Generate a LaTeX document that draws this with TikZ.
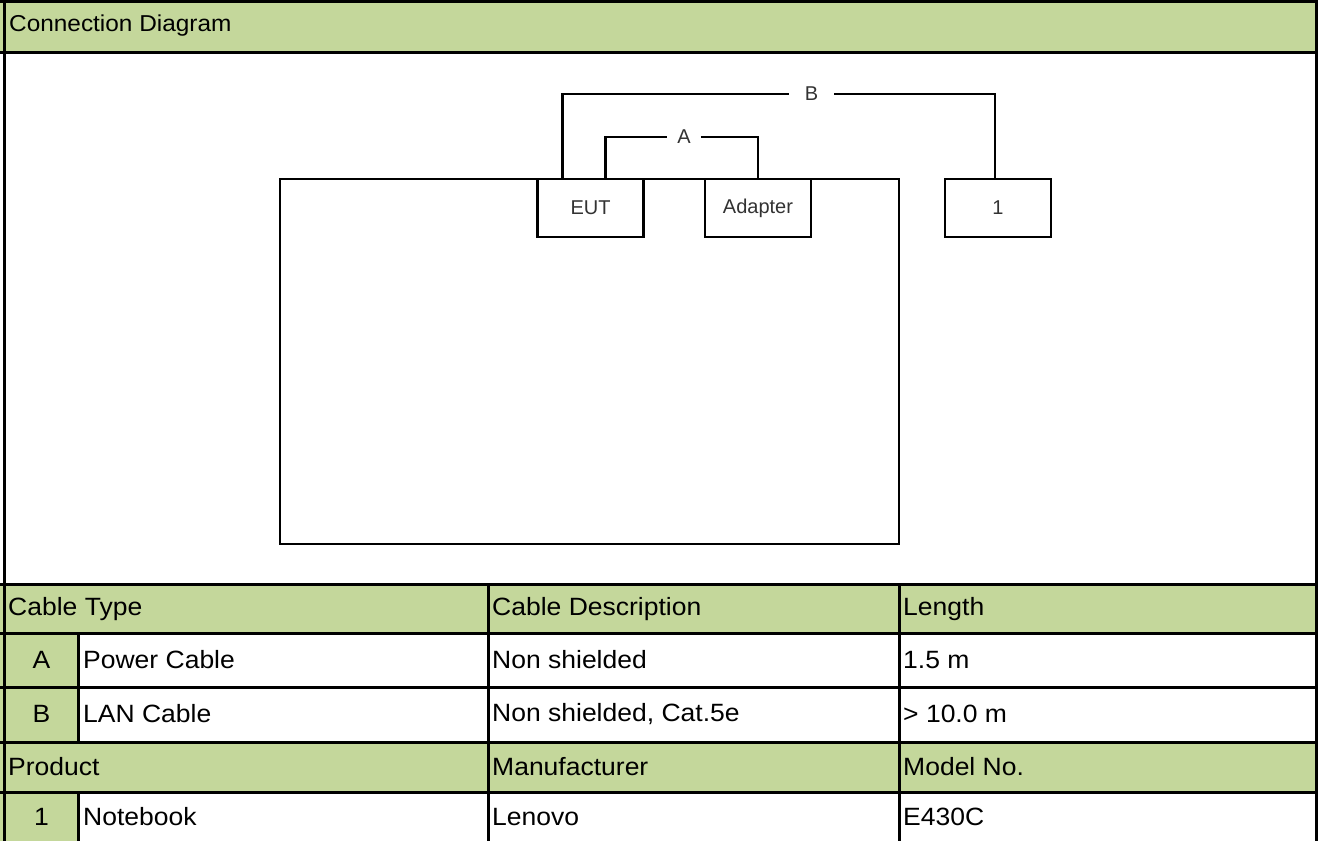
\documentclass[tikz,border=0pt]{standalone}
\usepackage{fontspec}
\setmainfont{Liberation Sans}
\newfontfamily\cellfont[FakeStretch=1.06]{Liberation Sans}
\definecolor{hdrgreen}{HTML}{C4D79B}
\begin{document}
\begin{tikzpicture}[x=1pt,y=-1pt,
boxstyle/.style={draw,line width=2.5pt,fill=white,minimum width=106pt,minimum height=58pt,inner sep=0pt,text=black!80,font=\fontsize{20}{24}\selectfont},
labelstyle/.style={inner ysep=2pt,text=black!80,font=\fontsize{20}{24}\selectfont},
cellstyle/.style={anchor=west,inner sep=0pt,font=\cellfont\fontsize{25}{29}\selectfont},
linestyle/.style={line width=3pt}]
\useasboundingbox (0,0) rectangle (1318,841);
\fill[hdrgreen] (0,0) rectangle (1318,52);
\fill[hdrgreen] (0,584) rectangle (1318,633) (0,742) rectangle (1318,792)
(0,633) rectangle (78,742) (0,792) rectangle (78,845);
\draw[linestyle] (4.5,0)--(4.5,845) (1316.5,0)--(1316.5,845) (0,1)--(1318,1) (0,52)--(1318,52);
\foreach \y in {584,633,687,742,792}
 \draw[linestyle] (0,\y)--(1318,\y);
\draw[linestyle] (488,584)--(488,845) (899,584)--(899,845) (78,633)--(78,742) (78,792)--(78,845);

\node[cellstyle,font=\cellfont\fontsize{23}{27}\selectfont](title) at (9,26){Connection Diagram};
\node[cellstyle](cabletype) at (8,609){Cable Type};
\node[cellstyle](cabledesc) at (492,609){Cable Description};
\node[cellstyle](length) at (903,609){Length};
\node[cellstyle](product) at (8,767){Product};
\node[cellstyle](maker) at (492,767){Manufacturer};
\node[cellstyle](model) at (903,767){Model No.};
\foreach \y/\k/\a/\b/\c [count=\r] in {660/A/Power Cable/Non shielded/1.5 m,714/B/LAN Cable/{Non shielded, Cat.5e}/> 10.0 m,817/1/Notebook/Lenovo/E430C}
{\node[cellstyle,anchor=center](k\r) at (41.5,\y){\k};
\node[cellstyle](a\r) at (83,\y){\a};
\node[cellstyle](b\r) at (492,\y){\b};
\node[cellstyle](c\r) at (903,\y){\c};
}

\node[draw,line width=2.5pt,minimum width=619pt,minimum height=365pt,inner sep=0pt](bench) at (589.5,361.5){};
\node[boxstyle](eut) at (590.5,208){EUT};
\node[boxstyle](adapter) at (758,208){Adapter};
\node[boxstyle](dev1) at (998,208){1};
\node[labelstyle,inner xsep=10pt](labA) at (684,137){A};
\node[labelstyle,inner xsep=16pt](labB) at (811.5,94){B};
\draw[line width=2.5pt] ([xshift=15pt]eut.north)|-(labA.west) (labA.east)-|(adapter.north);
\draw[line width=2.5pt] ([xshift=-28pt]eut.north)|-(labB.west) (labB.east)-|([xshift=-3pt]dev1.north);
\end{tikzpicture}
\end{document}
